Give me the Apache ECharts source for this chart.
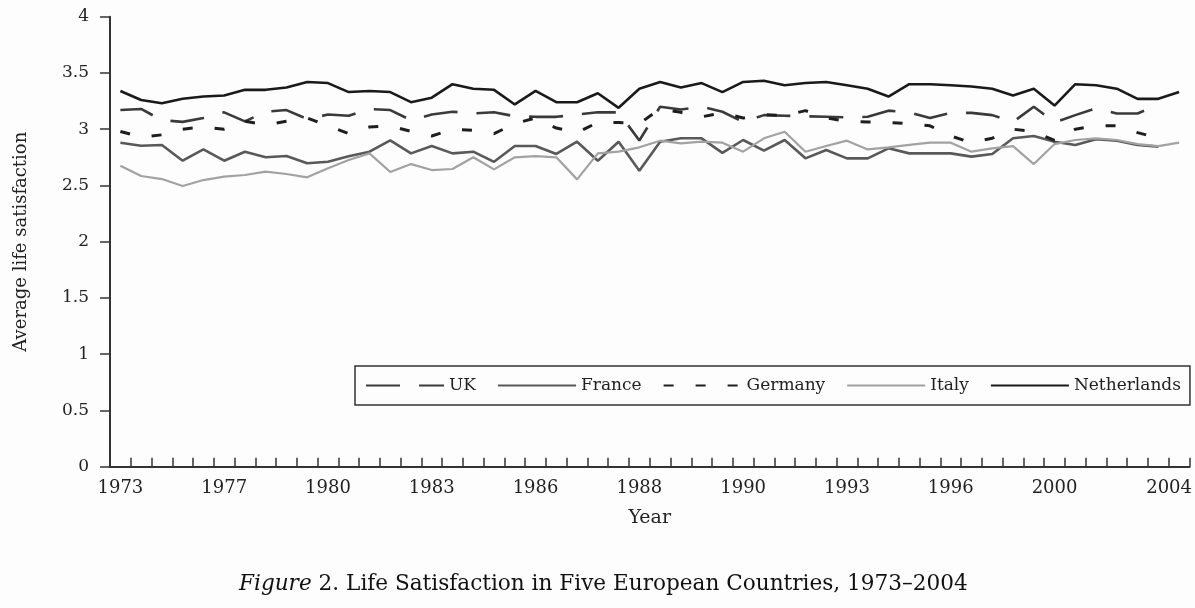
<!DOCTYPE html>
<html>
<head>
<meta charset="utf-8">
<script src="https://cdn.jsdelivr.net/npm/echarts@6/dist/echarts.min.js"></script>
<style>
  html, body { margin: 0; padding: 0; background: #fdfdfd; }
  #chart { width: 1195px; height: 608px; }
</style>
</head>
<body>
<div id="chart"></div>
<script>
// Survey waves 1973–2004 (52 waves); tick labels at selected waves
const tickLabels = ['1973', '1977', '1980', '1983', '1986', '1988', '1990', '1993', '1996', '2000', '2004'];
const tickIndex  = [0, 5, 10, 15, 20, 25, 30, 35, 40, 45, 51];
const yTicks = [0, 0.5, 1, 1.5, 2, 2.5, 3, 3.5, 4];

const uk = [3.17, 3.18, 3.08, 3.065, 3.10, 3.15, 3.07, 3.155, 3.17, 3.09,
            3.13, 3.12, 3.18, 3.17, 3.08, 3.13, 3.155, 3.14, 3.15, 3.115,
            3.11, 3.11, 3.13, 3.15, 3.15, 2.90, 3.20, 3.175, 3.20, 3.155,
            3.065, 3.125, 3.12, 3.115, 3.11, 3.105, 3.11, 3.165, 3.15, 3.10,
            3.145, 3.145, 3.125, 3.065, 3.20, 3.06, 3.125, 3.185, 3.14, 3.14,
            3.215, null];
const france = [2.88, 2.853, 2.859, 2.72, 2.82, 2.72, 2.80, 2.75, 2.762, 2.697,
                2.711, 2.76, 2.80, 2.90, 2.785, 2.851, 2.785, 2.80, 2.71, 2.851,
                2.851, 2.78, 2.889, 2.72, 2.889, 2.63, 2.889, 2.92, 2.919, 2.79,
                2.904, 2.809, 2.904, 2.741, 2.815, 2.741, 2.741, 2.83, 2.785, 2.785,
                2.785, 2.756, 2.78, 2.919, 2.94, 2.889, 2.86, 2.91, 2.898, 2.86,
                2.845, null];
const germany = [2.98, 2.93, 2.95, 3.00, 3.02, 3.00, 3.07, 3.04, 3.07, 3.10,
                 3.03, 2.96, 3.02, 3.03, 2.98, 2.94, 3.00, 2.99, 2.96, 3.05,
                 3.10, 3.01, 2.97, 3.06, 3.06, 3.05, 3.18, 3.15, 3.11, 3.145,
                 3.10, 3.13, 3.12, 3.165, 3.10, 3.07, 3.065, 3.06, 3.05, 3.03,
                 2.94, 2.88, 2.92, 3.00, 2.98, 2.90, 3.00, 3.03, 3.03, 2.97,
                 2.92, null];
const italy = [2.676, 2.584, 2.557, 2.495, 2.548, 2.578, 2.593, 2.623, 2.602, 2.572,
               2.652, 2.726, 2.785, 2.62, 2.69, 2.637, 2.646, 2.75, 2.643, 2.75,
               2.76, 2.75, 2.554, 2.785, 2.80, 2.839, 2.898, 2.874, 2.889, 2.88,
               2.80, 2.919, 2.978, 2.80, 2.851, 2.898, 2.82, 2.839, 2.86, 2.88,
               2.88, 2.80, 2.83, 2.85, 2.69, 2.868, 2.904, 2.919, 2.904, 2.868,
               2.85, 2.88];
const netherlands = [3.34, 3.26, 3.23, 3.27, 3.29, 3.30, 3.35, 3.35, 3.37, 3.42,
                     3.41, 3.33, 3.34, 3.33, 3.24, 3.28, 3.40, 3.36, 3.35, 3.22,
                     3.34, 3.24, 3.24, 3.32, 3.19, 3.36, 3.42, 3.37, 3.41, 3.33,
                     3.42, 3.43, 3.39, 3.41, 3.42, 3.39, 3.36, 3.29, 3.40, 3.40,
                     3.39, 3.38, 3.36, 3.30, 3.36, 3.21, 3.40, 3.39, 3.36, 3.27,
                     3.27, 3.33];

const waves = netherlands.map((_, i) => 'wave ' + (i + 1));
const FONT = 'DejaVu Serif';
const INK = '#222';

const chart = echarts.init(document.getElementById('chart'), null, { renderer: 'canvas' });

function line(name, data, color, width, type) {
  return {
    name, type: 'line', data, symbol: 'none', showSymbol: false,
    connectNulls: false, animation: false,
    lineStyle: { color, width, type },
    itemStyle: { color },
    z: 3
  };
}

chart.setOption({
  backgroundColor: '#fdfdfd',
  animation: false,
  title: {
    text: '{i|Figure} 2. Life Satisfaction in Five European Countries, 1973\u20132004',
    left: 234, top: 568,
    textStyle: {
      fontFamily: FONT, fontSize: 21.6, fontWeight: 'normal', color: '#111',
      rich: { i: { fontFamily: FONT, fontSize: 21.6, fontStyle: 'italic', color: '#111' } }
    }
  },
  grid: { left: 110, right: 5, top: 16.7, bottom: 141.3, containLabel: false },
  legend: {
    left: 355, top: 366,
    orient: 'horizontal',
    itemWidth: 78, itemHeight: 14, itemGap: 21,
    padding: [11, 9, 11, 10],
    borderColor: '#333', borderWidth: 1.5, borderRadius: 0,
    backgroundColor: '#fdfdfd',
    itemStyle: { opacity: 0, borderWidth: 0 },
    textStyle: { fontFamily: FONT, fontSize: 17, color: INK },
    data: ['UK', 'France', 'Germany', 'Italy', 'Netherlands']
  },
  xAxis: {
    type: 'category',
    data: waves,
    boundaryGap: true,
    name: 'Year', nameLocation: 'middle', nameGap: 42,
    nameTextStyle: { fontFamily: FONT, fontSize: 19, color: INK },
    axisLine: { lineStyle: { color: '#333', width: 2 } },
    axisTick: { show: true, inside: true, length: 9, interval: 0, lineStyle: { color: '#333', width: 1.5 } },
    axisLabel: {
      interval: (idx) => tickIndex.includes(idx),
      formatter: (val, idx) => {
        const k = tickIndex.indexOf(idx);
        if (k < 0) return '';
        return k === tickIndex.length - 1 ? '{r|' + tickLabels[k] + '}' : tickLabels[k];
      },
      margin: 13,
      fontFamily: FONT, fontSize: 18, color: INK,
      rich: { r: { fontFamily: FONT, fontSize: 18, color: INK, padding: [0, 20, 0, 0] } }
    },
    splitLine: { show: false }
  },
  yAxis: {
    type: 'value',
    min: yTicks[0], max: yTicks[yTicks.length - 1], interval: 0.5,
    name: 'Average life satisfaction', nameLocation: 'middle', nameGap: 80,
    nameTextStyle: { fontFamily: FONT, fontSize: 18, color: INK },
    axisLine: { show: true, lineStyle: { color: '#333', width: 2 } },
    axisTick: { show: true, inside: false, length: 10, lineStyle: { color: '#333', width: 1.5 } },
    axisLabel: { margin: 21, fontFamily: FONT, fontSize: 17, color: INK },
    splitLine: { show: false }
  },
  series: [
    line('UK', uk, '#3a3a3a', 2.6, [34, 19]),
    line('France', france, '#595959', 2.6, 'solid'),
    line('Germany', germany, '#1e1e1e', 3, [10, 22]),
    line('Italy', italy, '#a2a2a2', 2.2, 'solid'),
    line('Netherlands', netherlands, '#1a1a1a', 2.6, 'solid')
  ]
});
</script>
</body>
</html>
